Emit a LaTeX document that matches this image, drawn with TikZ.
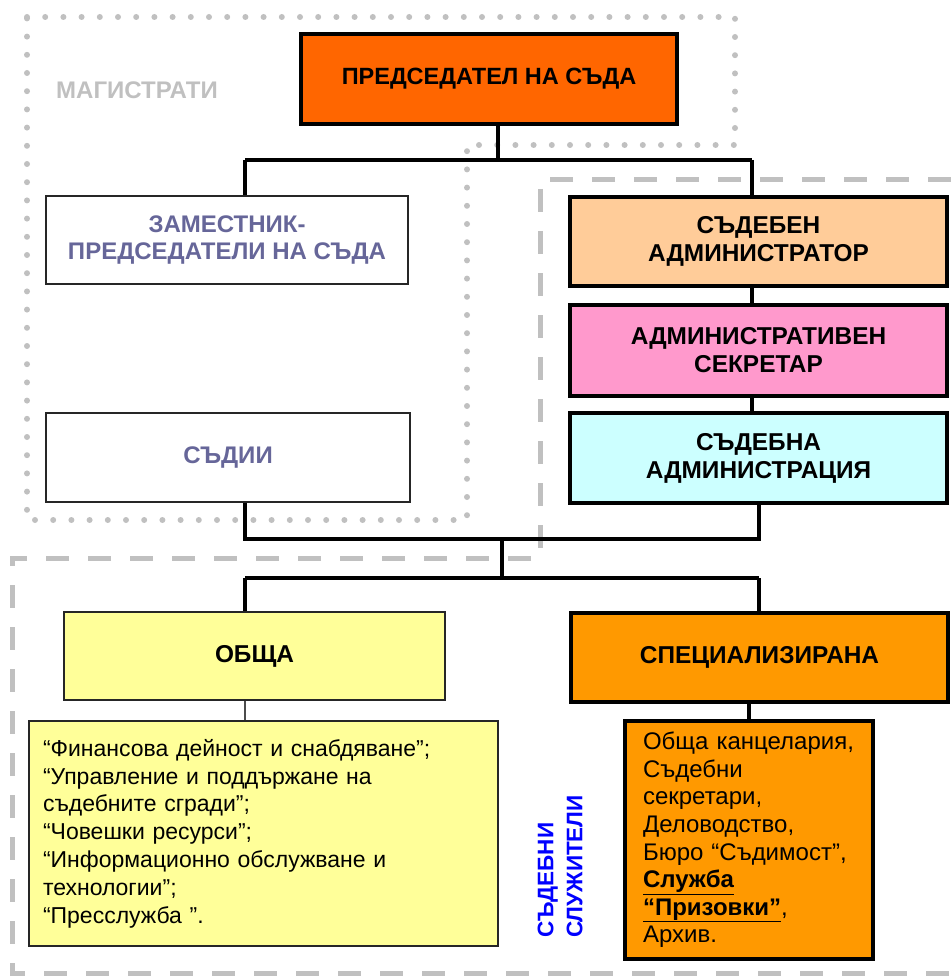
\documentclass[tikz,border=0pt]{standalone}
\usepackage{fontspec}
\setmainfont{Liberation Sans}

\definecolor{chaircol}{RGB}{255,102,0}
\definecolor{admincol}{RGB}{255,204,153}
\definecolor{secrcol}{RGB}{255,153,204}
\definecolor{staffcol}{RGB}{204,255,255}
\definecolor{gencol}{RGB}{255,255,153}
\definecolor{speccol}{RGB}{255,153,0}
\definecolor{framecol}{RGB}{192,192,192}
\definecolor{judgecol}{RGB}{102,102,153}

\tikzset{
  box/.style={draw=black!85,line width=1.3pt,align=center,inner sep=0pt,
    font=\bfseries\fontsize{24}{27}\selectfont},
  thickbox/.style={box,draw=black,line width=4.5pt,font=\bfseries\fontsize{24.4}{28}\selectfont},
  listbox/.style={box,align=left,font=\fontsize{24}{27.6}\selectfont},
  link/.style={line width=4pt},
  dotframe/.style={draw=framecol,line width=6pt,line cap=round,dash pattern=on 0pt off 18.2pt},
  dashframe/.style={draw=framecol,line width=5pt,dash pattern=on 23pt off 19pt}
}

\begin{document}
\begin{tikzpicture}[x=1pt,y=-1pt]
  \useasboundingbox (0,0) rectangle (951,976);

  \draw[dotframe] (27,17) -- (735,17) -- (735,145) -- (467,145) -- (467,520) -- (27,520) -- cycle;
  \draw[dashframe] (951,180) -- (540,180) -- (540,558) -- (12,558) -- (12,973) -- (951,973);

  \node[font=\bfseries\fontsize{24}{27}\selectfont,text=framecol] (mag) at (137,90) {МАГИСТРАТИ};

  \coordinate (t) at (498,160);
  \coordinate (l) at (245,160);
  \coordinate (r) at (752,160);
  \coordinate (b1) at (245,539);
  \coordinate (b2) at (759,539);
  \coordinate (m) at (502,539);
  \coordinate (c) at (502,578);
  \coordinate (c1) at (245,578);
  \coordinate (c2) at (759,578);

  \node[thickbox,fill=chaircol,font=\bfseries\fontsize{23.5}{28}\selectfont,minimum width=376pt,minimum height=90pt] (chair) at (489,79) {ПРЕДСЕДАТЕЛ НА СЪДА};

  \node[box,text=judgecol,fill=white,minimum width=362pt,minimum height=88pt] (deputy) at (227,240) {ЗАМЕСТНИК-\\ПРЕДСЕДАТЕЛИ НА СЪДА};
  \node[box,text=judgecol,fill=white,minimum width=364pt,minimum height=89pt] (judges) at (228,457.5) {СЪДИИ};

  \node[thickbox,fill=admincol,minimum width=377pt,minimum height=89pt] (admin) at (758.5,241.5) {СЪДЕБЕН\\АДМИНИСТРАТОР};
  \node[thickbox,fill=secrcol,minimum width=377pt,minimum height=91pt] (secr) at (758.5,350.5) {АДМИНИСТРАТИВЕН\\СЕКРЕТАР};
  \node[thickbox,fill=staffcol,minimum width=377pt,minimum height=90pt] (staff) at (758.5,458) {СЪДЕБНА\\АДМИНИСТРАЦИЯ};

  \node[box,fill=gencol,font=\bfseries\fontsize{24.4}{28}\selectfont,minimum width=381pt,minimum height=88pt] (general) at (254.5,656) {ОБЩА};
  \node[listbox,fill=gencol,font=\fontsize{23}{27.8}\selectfont,inner xsep=14pt,text width=441pt,minimum height=225pt] (genlist) at (263.5,833.5)
    {“Финансова дейност и снабдяване”;\\“Управление и поддържане на\\съдебните сгради”;\\“Човешки ресурси”;\\“Информационно обслужване и\\технологии”;\\“Пресслужба ”.};

  \node[thickbox,fill=speccol,minimum width=377pt,minimum height=89pt] (special) at (759.5,657.5) {СПЕЦИАЛИЗИРАНА};
  \node[listbox,draw=black,line width=4.5pt,fill=speccol,inner xsep=18pt,text width=212pt,minimum height=238pt] (speclist) at (749,840)
    {Обща канцелария,\\Съдебни\\секретари,\\Деловодство,\\Бюро “Съдимост”,\\\textbf{\underline{Служба}}\\\textbf{\underline{“Призовки”}},\\Архив.};

  \node[rotate=90,anchor=west,align=left,inner sep=0pt,text=blue,font=\bfseries\fontsize{22.5}{29}\selectfont] (clerks) at (560,938) {СЪДЕБНИ\\СЛУЖИТЕЛИ};

  \draw[link] (chair.south -| t) -- (t) (l) -- (r) (l) -- (deputy.north -| l) (r) -- (admin.north -| r);
  \draw[link] (admin.south -| r) -- (secr.north -| r) (secr.south -| r) -- (staff.north -| r);
  \draw[link] (judges.south -| b1) -- (b1) -- (b2) -- (staff.south -| b2);
  \draw[link] (m) -- (c) (c1) -- (c2) (c1) -- (general.north -| c1) (c2) -- (special.north -| c2);
  \draw[line width=1.2pt,draw=black!70] (general.south -| c1) -- (genlist.north -| c1);
  \draw[link] (special.south -| speclist.north) -- (speclist.north);
\end{tikzpicture}
\end{document}
